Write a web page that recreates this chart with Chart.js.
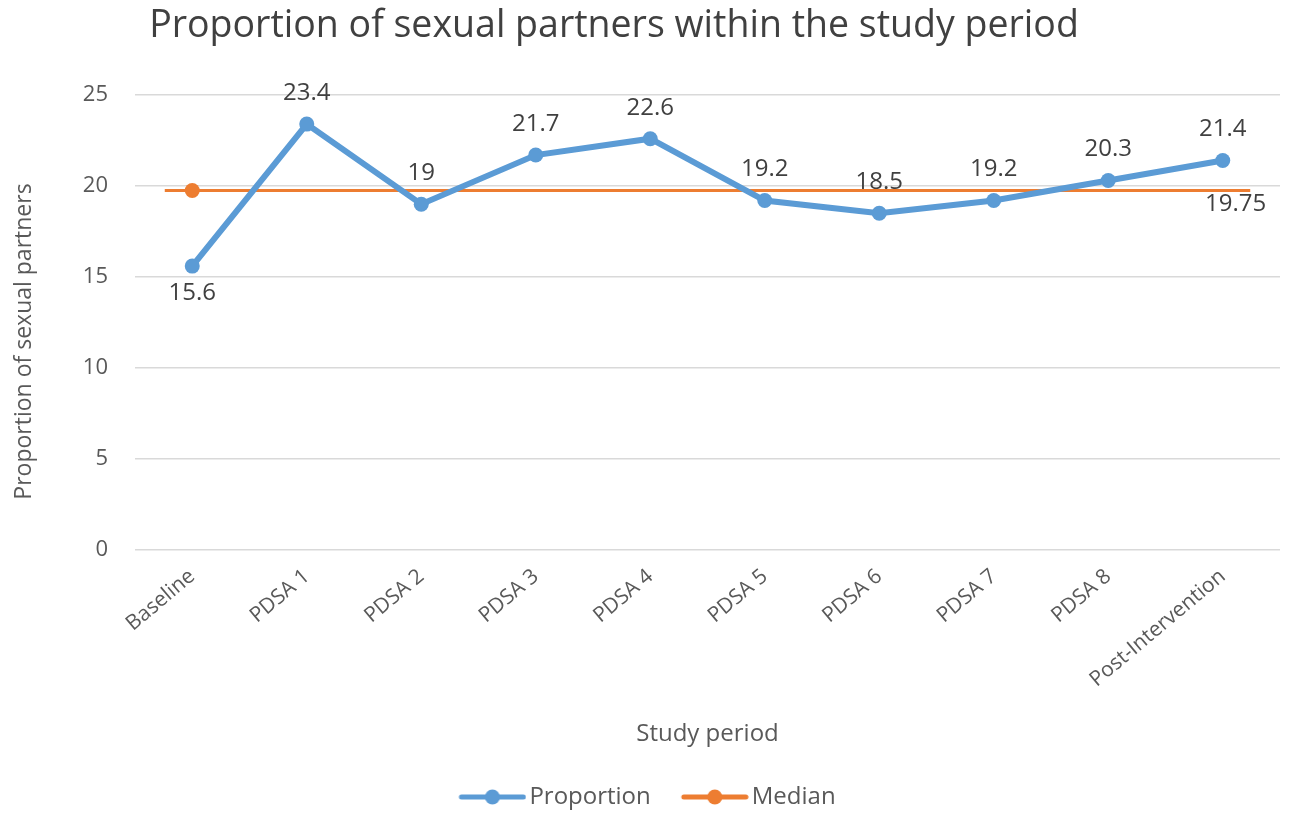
<!DOCTYPE html>
<html>
<head>
<meta charset="utf-8">
<script src="https://cdn.jsdelivr.net/npm/chart.js@4/dist/chart.umd.min.js"></script>
<style>
  html, body { margin: 0; padding: 0; background: #fff; }
  #wrap { width: 1291px; height: 819px; }
</style>
</head>
<body>
<div id="wrap"><canvas id="partnersChart" width="1291" height="819"></canvas></div>
<script>
// Chart data
const periods = ['Baseline', 'PDSA 1', 'PDSA 2', 'PDSA 3', 'PDSA 4', 'PDSA 5', 'PDSA 6', 'PDSA 7', 'PDSA 8', 'Post-Intervention'];
const proportion = [15.6, 23.4, 19, 21.7, 22.6, 19.2, 18.5, 19.2, 20.3, 21.4];
const medianValue = 19.75;
const yTicks = [0, 5, 10, 15, 20, 25];
const chartTitle = 'Proportion of sexual partners within the study period';
const yTitle = 'Proportion of sexual partners';
const xTitle = 'Study period';

const BLUE = '#5b9bd5';
const ORANGE = '#ed7d31';
const TEXT = '#595959';
const FONT = "'Open Sans', 'Noto Sans', sans-serif";

// how far the median line runs past the first/last category (in category units)
const overhang = 0.24;
const lastIdx = periods.length - 1;
const medianPoints = [
  { x: -overhang, y: medianValue },
  { x: 0, y: medianValue },
  { x: lastIdx + overhang, y: medianValue }
];

// legend icon: short line with a dot, pushed to the right so it sits close to its text
const ICON_BOX = 73;
function legendIcon(color) {
  const c = document.createElement('canvas');
  c.width = ICON_BOX + 18; c.height = 18;
  const g = c.getContext('2d');
  const x0 = c.width - 68;
  g.strokeStyle = color;
  g.lineWidth = 5;
  g.lineCap = 'round';
  g.beginPath(); g.moveTo(x0 + 3, 9); g.lineTo(x0 + 65, 9); g.stroke();
  g.fillStyle = color;
  g.beginPath(); g.arc(x0 + 34, 9, 7.5, 0, Math.PI * 2); g.fill();
  return c;
}

// title, y axis title and value labels
const extraText = {
  id: 'extraText',
  afterDraw(chart) {
    const ctx = chart.ctx;
    const area = chart.chartArea;
    ctx.save();
    ctx.textBaseline = 'middle';

    ctx.fillStyle = '#404040';
    ctx.textAlign = 'center';
    ctx.font = '37.5px ' + FONT;
    ctx.fillText(chartTitle, 614, 26);

    ctx.fillStyle = TEXT;
    ctx.font = '23px ' + FONT;
    ctx.translate(24, (area.top + area.bottom) / 2 + 19);
    ctx.rotate(-Math.PI / 2);
    ctx.fillText(yTitle, 0, 0);
    ctx.restore();
  },
  afterDatasetsDraw(chart) {
    const ctx = chart.ctx;
    ctx.save();
    ctx.font = '24px ' + FONT;
    ctx.fillStyle = '#404040';
    ctx.textAlign = 'center';
    ctx.textBaseline = 'middle';
    chart.getDatasetMeta(0).data.forEach((pt, i) => {
      const below = i === 0; // baseline label sits under its point
      ctx.fillText(String(proportion[i]), pt.x, below ? pt.y + 27 : pt.y - 31);
    });
    const medMeta = chart.getDatasetMeta(1).data;
    const end = medMeta[medMeta.length - 1];
    ctx.textAlign = 'right';
    ctx.fillText(String(medianValue), end.x + 16, end.y + 14);
    ctx.restore();
  }
};

const ctx = document.getElementById('partnersChart').getContext('2d');
new Chart(ctx, {
  type: 'line',
  data: {
    labels: periods,
    datasets: [{
      label: 'Proportion',
      data: proportion,
      borderColor: BLUE,
      backgroundColor: BLUE,
      borderWidth: 6,
      pointRadius: 7.5,
      pointHoverRadius: 7.5,
      pointBorderWidth: 0,
      tension: 0,
      fill: false,
      xAxisID: 'x'
    }, {
      label: 'Median',
      data: medianPoints,
      borderColor: ORANGE,
      backgroundColor: ORANGE,
      borderWidth: 3,
      pointRadius: [0, 7.5, 0],
      pointHoverRadius: [0, 7.5, 0],
      pointBorderWidth: 0,
      fill: false,
      xAxisID: 'xm'
    }]
  },
  options: {
    responsive: false,
    animation: false,
    layout: { padding: { left: 0, right: 11, top: 95, bottom: 0 } },
    plugins: {
      title: { display: false },
      legend: {
        position: 'bottom',
        labels: {
          color: TEXT,
          font: { family: FONT, size: 24 },
          usePointStyle: true,
          pointStyleWidth: ICON_BOX,
          padding: 16,
          generateLabels(chart) {
            return chart.data.datasets.map((ds, i) => ({
              text: ds.label,
              pointStyle: legendIcon(ds.borderColor),
              fillStyle: ds.borderColor,
              strokeStyle: ds.borderColor,
              lineWidth: 0,
              fontColor: TEXT,
              datasetIndex: i,
              hidden: false
            }));
          }
        }
      },
      tooltip: { enabled: false }
    },
    scales: {
      x: {
        type: 'category',
        offset: true,
        grid: { display: false },
        border: { display: false },
        ticks: {
          color: TEXT,
          font: { family: FONT, size: 21 },
          minRotation: 40,
          maxRotation: 40,
          padding: 6
        },
        title: {
          display: true,
          text: xTitle,
          color: TEXT,
          font: { family: FONT, size: 24 },
          padding: { top: 0, bottom: 20 }
        },
        afterFit(scale) { scale.height = 219; }
      },
      xm: {
        type: 'linear',
        display: false,
        min: -0.5,
        max: lastIdx + 0.5
      },
      y: {
        min: 0,
        max: 25,
        afterBuildTicks(scale) { scale.ticks = yTicks.map(v => ({ value: v })); },
        grid: { color: '#d9d9d9', lineWidth: 1.5, drawTicks: false },
        border: { display: false },
        ticks: {
          color: TEXT,
          font: { family: FONT, size: 22 },
          padding: 27
        },
        afterFit(scale) { scale.width = 135; }
      }
    }
  },
  plugins: [extraText]
});
</script>
</body>
</html>
